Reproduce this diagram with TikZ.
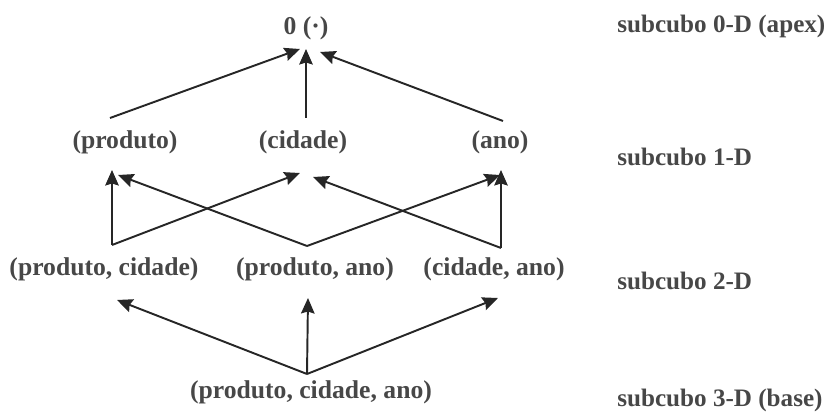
\documentclass[tikz,border=0pt]{standalone}
\usepackage{fontspec}
\setmainfont{Liberation Serif}
\usetikzlibrary{arrows.meta, calc}

\begin{document}
\begin{tikzpicture}[x=0.02cm, y=-0.02cm,
    lbl/.style={text=black!72, font=\bfseries\fontsize{14.6}{17}\selectfont, inner sep=0pt},
    dimlbl/.style={lbl, anchor=west, font=\bfseries\fontsize{14.3}{17}\selectfont},
    edge/.style={draw=black!85, line width=1.1pt,
        -{Stealth[length=0.31cm, width=0.27cm, inset=0.04cm]}}]

%%Paramaters
%% row heights (y grows downwards), can be modified
\def\rowA{28}
\def\rowB{142}
\def\rowC{269}
\def\rowD{392}

%% x position of the subcube captions
\def\DimPos{617}

\useasboundingbox (0,0) rectangle (829,415);

    %% lattice nodes
    \node[lbl] (apex) at (306, \rowA) {0 (·)};

    \node[lbl] (prod) at (125, \rowB) {(produto)};
    \node[lbl] (cid)  at (303, \rowB) {(cidade)};
    \node[lbl] (ano)  at (500, \rowB) {(ano)};

    \node[lbl] (prodcid) at (104, \rowC) {(produto, cidade)};
    \node[lbl] (prodano) at (315, \rowC) {(produto, ano)};
    \node[lbl] (cidano)  at (494, \rowC) {(cidade, ano)};

    \node[lbl] (prodcidano) at (311, \rowD) {(produto, cidade, ano)};

    %% captions on the right
    \node[dimlbl] (dimA) at (\DimPos, 26)  {subcubo 0-D (apex)};
    \node[dimlbl] (dimB) at (\DimPos, 157) {subcubo 1-D};
    \node[dimlbl] (dimC) at (\DimPos, 281) {subcubo 2-D};
    \node[dimlbl] (dimD) at (\DimPos, 400) {subcubo 3-D (base)};


     %% 1-D -> apex
        \draw[edge] ($(prod) + (-15, -24)$) -- ($(apex) + (-6, 21)$);
        \draw[edge] ($(cid) + (3, -24)$)    -- ($(apex) + (0, 21)$);
        \draw[edge] ($(ano) + (3, -21)$)    -- ($(apex) + (14, 24)$);

     %% 2-D -> 1-D
        \draw[edge] ($(prodcid) + (8, -24)$) -- ($(prod) + (-13, 28)$);
        \draw[edge] ($(prodcid) + (8, -24)$) -- ($(cid) + (-3, 31)$);

        \draw[edge] ($(prodano) + (-8, -23)$) -- ($(prod) + (-7, 33)$);
        \draw[edge] ($(prodano) + (-8, -23)$) -- ($(ano) + (0, 33)$);

        \draw[edge] ($(cidano) + (7, -21)$) -- ($(cid) + (10, 35)$);
        \draw[edge] ($(cidano) + (7, -21)$) -- ($(ano) + (1, 28)$);

     %% base -> 2-D
        \draw[edge] ($(prodcidano) + (-4, -18)$) -- ($(prodcid) + (13, 31)$);
        \draw[edge] ($(prodcidano) + (-4, -18)$) -- ($(prodano) + (-7, 29)$);
        \draw[edge] ($(prodcidano) + (-4, -18)$) -- ($(cidano) + (4, 29)$);

\end{tikzpicture}
\end{document}
